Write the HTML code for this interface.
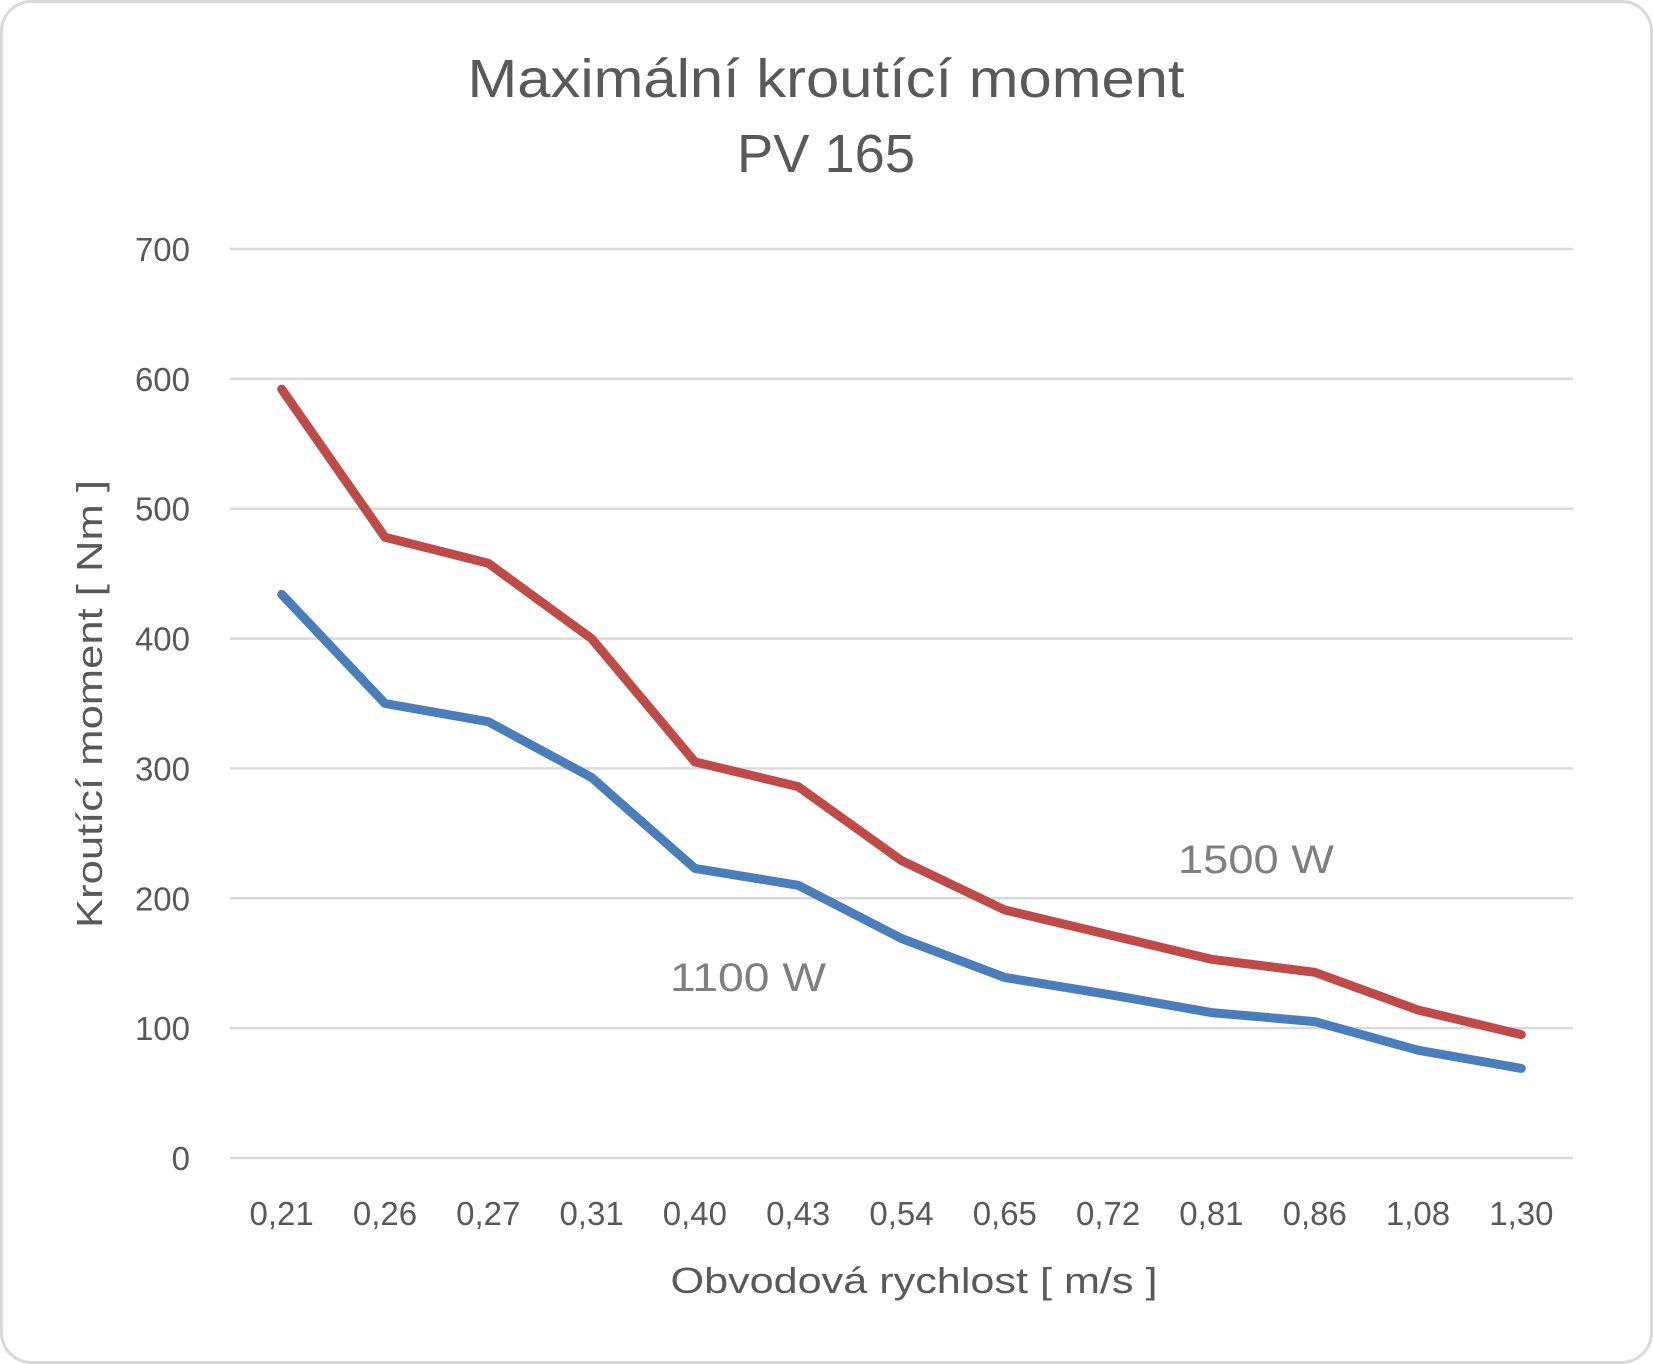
<!DOCTYPE html>
<html><head><meta charset="utf-8"><style>
html,body{margin:0;padding:0;background:#fff;}
svg{display:block;font-family:"Liberation Sans",sans-serif;}
</style></head><body>
<svg id="chart" width="1653" height="1364" viewBox="0 0 1653 1364" xmlns="http://www.w3.org/2000/svg">
<rect x="1.5" y="1.5" width="1650" height="1361" rx="30" fill="#fff" stroke="#d9d9d9" stroke-width="3"/>
<text x="826" y="97" text-anchor="middle" font-size="54" fill="#595959" textLength="717" lengthAdjust="spacingAndGlyphs">Maximální kroutící moment</text>
<text x="826" y="172" text-anchor="middle" font-size="54" fill="#595959" textLength="178" lengthAdjust="spacingAndGlyphs">PV 165</text>
<g id="grid"></g><g id="yticks"></g><g id="xticks"></g><g id="series"></g>
<text transform="translate(102,704) rotate(-90)" text-anchor="middle" font-size="36" fill="#595959" textLength="448" lengthAdjust="spacingAndGlyphs">Kroutící moment  [ Nm ]</text>
<text x="914" y="1293" text-anchor="middle" font-size="36" fill="#595959" textLength="487" lengthAdjust="spacingAndGlyphs">Obvodová rychlost  [ m/s ]</text>
<text x="1178" y="873" font-size="40" fill="#7f7f7f" textLength="156" lengthAdjust="spacingAndGlyphs">1500 W</text>
<text x="670" y="991" font-size="40" fill="#7f7f7f" textLength="156" lengthAdjust="spacingAndGlyphs">1100 W</text>
</svg>
<script>
const categories=["0,21","0,26","0,27","0,31","0,40","0,43","0,54","0,65","0,72","0,81","0,86","1,08","1,30"];
const series1500=[592,478,458,400,305,286,229,191,172,153,143,114,95];
const series1100=[434,350,336,293,223,210,169,139,126,112,105,83,69];
const yTicks=[0,100,200,300,400,500,600,700];
const NS="http://www.w3.org/2000/svg";
const left=230,right=1573,y0=1158,yTop=249,yMax=700;
const bw=(right-left)/categories.length;
function xs(i){return left+bw*(i+0.5);}
function ys(v){return y0-(y0-yTop)*v/yMax;}
function mk(tag,parent,attrs){const e=document.createElementNS(NS,tag);for(const k in attrs)e.setAttribute(k,attrs[k]);document.getElementById(parent).appendChild(e);return e;}
yTicks.forEach(v=>{
  const l=mk('line','grid',{x1:left,x2:right,y1:ys(v),y2:ys(v),stroke:'#d9d9d9','stroke-width':2.5});
  
  
  const t=mk('text','yticks',{x:190,y:ys(v)+12,'text-anchor':'end','font-size':33,fill:'#595959'});
  t.textContent=v;
  
  
});
categories.forEach((c,i)=>{
  const t=mk('text','xticks',{x:xs(i),y:1225,'text-anchor':'middle','font-size':33,fill:'#595959'});
  t.textContent=c;
  
  
});
function line(vals,color,name){
  const d=vals.map((v,i)=>(i?'L':'M')+xs(i).toFixed(1)+','+ys(v).toFixed(1)).join(' ');
  const p=mk('path','series',{d:d,fill:'none',stroke:color,'stroke-width':9,'stroke-linecap':'round','stroke-linejoin':'round'});
  
  
}
line(series1100,'#4a7ebb','series-1100w-line');
line(series1500,'#be4b48','series-1500w-line');
</script>
</body></html>
